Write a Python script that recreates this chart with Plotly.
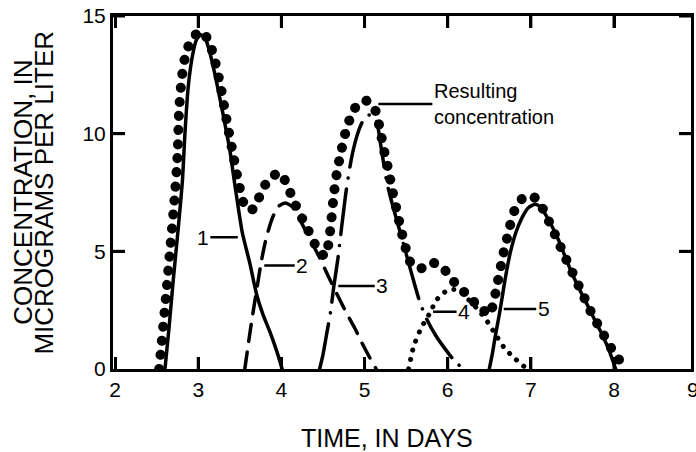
'''
    Concentration of five overlapping pulses and the resulting
    concentration curve (dotted), redrawn with plotly.
'''
import plotly.graph_objects as go

# ---- data (days, micrograms per liter) ----
days_1 = [2.60, 2.65, 2.70, 2.76, 2.81, 2.84, 2.88, 2.93, 2.98, 3.03, 3.09, 3.15,
          3.22, 3.30, 3.38, 3.45, 3.53, 3.62, 3.70, 3.78, 3.86, 3.94, 4.01]
conc_1 = [0, 1.8, 3.8, 6.0, 8.0, 10.0, 12.0, 13.3, 14.0, 14.2, 14.0, 13.3,
          12.2, 10.8, 9.3, 7.6, 5.8, 4.5, 3.2, 2.3, 1.6, 0.8, 0]

days_2 = [3.56, 3.60, 3.65, 3.70, 3.76, 3.82, 3.89, 3.96, 4.05, 4.13, 4.20, 4.28,
          4.36, 4.45, 4.57, 4.68, 4.78, 4.88, 4.97, 5.06, 5.14]
conc_2 = [0, 1.0, 2.2, 3.3, 4.6, 5.6, 6.4, 6.9, 7.05, 6.9, 6.5, 5.95,
          5.4, 4.8, 3.9, 3.1, 2.4, 1.75, 1.1, 0.5, 0]

days_3 = [4.46, 4.50, 4.54, 4.59, 4.63, 4.68, 4.72, 4.78, 4.84, 4.90, 4.96, 5.02,
          5.08, 5.14, 5.20, 5.27, 5.35, 5.43, 5.50, 5.57, 5.66, 5.75, 5.86, 5.98,
          6.08, 6.19]
conc_3 = [0, 0.6, 1.4, 2.4, 3.5, 4.7, 5.9, 7.6, 8.9, 9.8, 10.4, 10.75,
          10.8, 10.6, 9.4, 7.9, 6.8, 5.8, 4.9, 4.0, 2.9, 2.1, 1.4, 0.8,
          0.35, 0]

days_4 = [5.53, 5.59, 5.67, 5.73, 5.79, 5.85, 5.92, 6.01, 6.08, 6.15, 6.25, 6.37,
          6.48, 6.57, 6.67, 6.79, 6.89, 6.95]
conc_4 = [0, 0.95, 1.66, 2.05, 2.4, 2.85, 3.15, 3.36, 3.38, 3.3, 2.95, 2.5,
          2.0, 1.5, 0.95, 0.5, 0.2, 0]

days_5 = [6.50, 6.54, 6.57, 6.63, 6.69, 6.75, 6.82, 6.89, 6.97, 7.05, 7.11, 7.17,
          7.25, 7.33, 7.41, 7.49, 7.59, 7.69, 7.78, 7.86, 7.94, 8.02]
conc_5 = [0, 0.7, 1.35, 2.5, 3.8, 4.9, 5.8, 6.4, 6.85, 7.0, 6.9, 6.6,
          6.1, 5.5, 4.8, 4.1, 3.35, 2.65, 2.0, 1.45, 0.8, 0]

result_days = [2.53, 2.60, 2.66, 2.71, 2.75, 2.77, 2.80, 2.85, 2.92, 3.02, 3.12, 3.20,
               3.27, 3.34, 3.41, 3.48, 3.55, 3.60, 3.66, 3.72, 3.80, 3.90, 3.98, 4.06,
               4.14, 4.25, 4.35, 4.45, 4.53, 4.57, 4.60, 4.63, 4.67, 4.71, 4.76, 4.81,
               4.87, 4.93, 5.00, 5.07, 5.14, 5.19, 5.24, 5.29, 5.34, 5.39, 5.44, 5.49,
               5.54, 5.62, 5.72, 5.82, 5.90, 5.99, 6.10, 6.22, 6.33, 6.43, 6.50, 6.55,
               6.59, 6.63, 6.67, 6.71, 6.75, 6.81, 6.90, 7.00, 7.08, 7.16, 7.24, 7.33,
               7.42, 7.50, 7.58, 7.66, 7.74, 7.82, 7.90, 7.98, 8.06, 8.15]
result_conc = [0, 2.6, 5.0, 7.0, 9.0, 11.0, 12.3, 13.4, 14.0, 14.35, 14.0, 13.1,
               12.0, 10.6, 9.3, 8.0, 7.0, 6.75, 6.8, 7.2, 7.8, 8.2, 8.35, 7.9,
               7.2, 6.4, 5.7, 5.0, 4.8, 5.4, 6.3, 7.4, 8.4, 9.1, 9.9, 10.5,
               11.0, 11.3, 11.4, 11.35, 10.9, 10.1, 9.2, 8.4, 7.5, 6.7, 5.9, 5.2,
               4.6, 4.3, 4.3, 4.5, 4.45, 4.1, 3.6, 3.2, 2.8, 2.5, 2.3, 2.8,
               3.5, 4.2, 4.9, 5.5, 6.1, 6.8, 7.25, 7.35, 7.2, 6.7, 6.1, 5.4,
               4.7, 4.1, 3.5, 2.9, 2.3, 1.8, 1.3, 0.8, 0.4, 0.1]

x_ticks = [2, 3, 4, 5, 6, 7, 8]
y_ticks = [0, 5, 10, 15]

# curve labels and the point their leader line touches
label_text = ['1', '2', '3', '4', '5']
label_days = [3.50, 3.77, 4.66, 5.80, 6.65]
label_conc = [5.6, 4.4, 3.53, 2.43, 2.55]
label_shift = [-37, 40, 46, 33, 42]

X_RANGE = [1.975, 8.926]
Y_RANGE = [0, 15]
FONT = 'Liberation Sans, Arial, Helvetica, sans-serif'
INK = '#000000'
TICK_LEN = 12


def curve(x, y, width, dash):
    return go.Scatter(x=x, y=y, mode='lines', showlegend=False, hoverinfo='skip',
                      line=dict(color=INK, width=width, dash=dash,
                                shape='spline', smoothing=0.6))


fig = go.Figure()
fig.add_trace(curve(result_days, result_conc, 10, '0.1px,14px'))
fig.add_trace(curve(days_1, conc_1, 3.5, 'solid'))
fig.add_trace(curve(days_2, conc_2, 3.5, '17px,11px'))
fig.add_trace(curve(days_3, conc_3, 3.5, '46px,11px,0.1px,11px'))
fig.add_trace(curve(days_4, conc_4, 5, '0.1px,9.5px'))
fig.add_trace(curve(days_5, conc_5, 3.5, 'solid'))

for txt, xd, yd, dx in zip(label_text, label_days, label_conc, label_shift):
    fig.add_annotation(x=xd, y=yd, text=txt, showarrow=True, arrowhead=0,
                       arrowwidth=2.5, arrowcolor=INK, ax=dx, ay=0, standoff=2,
                       font=dict(size=21, color=INK, family=FONT))

fig.add_annotation(x=5.07, y=11.35, text='Resulting<br>concentration',
                   showarrow=True, arrowhead=0, arrowwidth=2.5, arrowcolor=INK,
                   ax=62, ay=0, standoff=8, xanchor='left', yanchor='middle',
                   yshift=-2, align='left',
                   font=dict(size=20, color=INK, family=FONT))

# axis titles, placed by hand so the two y lines sit close together
fig.add_annotation(xref='paper', yref='paper', x=-0.157, y=0.5, textangle=-90,
                   xanchor='center', yanchor='middle',
                   text='CONCENTRATION, IN', showarrow=False,
                   font=dict(size=26, color=INK, family=FONT))
fig.add_annotation(xref='paper', yref='paper', x=-0.121, y=0.5, textangle=-90,
                   xanchor='center', yanchor='middle',
                   text='MICROGRAMS PER LITER', showarrow=False,
                   font=dict(size=26, color=INK, family=FONT))
fig.add_annotation(xref='paper', yref='paper', x=0.474, y=0, yshift=-69,
                   xanchor='center', yanchor='middle', text='TIME, IN DAYS',
                   showarrow=False, font=dict(size=25, color=INK, family=FONT))
# the "9" label sits on the cropped right edge
fig.add_annotation(xref='paper', yref='paper',
                   x=(9 - X_RANGE[0]) / (X_RANGE[1] - X_RANGE[0]), y=0,
                   xshift=-4, yshift=-20, xanchor='center', yanchor='middle',
                   text='9', showarrow=False,
                   font=dict(size=21, color=INK, family=FONT))

# inward ticks on all four sides, drawn as shapes on top of the traces
for xv in x_ticks[1:]:
    for anchor, sign in ((0, 1), (1, -1)):
        fig.add_shape(type='line', xref='x', yref='paper', ysizemode='pixel',
                      yanchor=anchor, x0=xv, x1=xv, y0=0, y1=sign * TICK_LEN,
                      line=dict(color=INK, width=3))
for yv in y_ticks[1:]:
    for anchor, sign in ((0, 1), (1, -1)):
        fig.add_shape(type='line', xref='paper', yref='y', xsizemode='pixel',
                      xanchor=anchor, y0=yv, y1=yv, x0=0, x1=sign * TICK_LEN,
                      line=dict(color=INK, width=3))

axis_style = dict(tickmode='array', showgrid=False, zeroline=False, showline=True,
                  linewidth=3, linecolor=INK, mirror='ticks', ticks='inside',
                  ticklen=TICK_LEN, tickwidth=3, tickcolor=INK,
                  tickfont=dict(size=21, color=INK, family=FONT))

fig.update_layout(
    width=696, height=452,
    margin=dict(l=113, r=2, t=16, b=83),
    paper_bgcolor='white', plot_bgcolor='white',
    xaxis=dict(range=X_RANGE, tickvals=x_ticks, **axis_style),
    # a small suffix gap pushes the y labels away from the axis line
    yaxis=dict(range=Y_RANGE, tickvals=y_ticks, ticksuffix='\u00a0\u200a',
               **axis_style),
)

# round line caps turn the zero-length dashes into round dots
POST_JS = """
var s = document.createElement('style');
s.textContent = 'body{margin:0;overflow:hidden} .scatterlayer path.js-line{stroke-linecap:round}';
document.head.appendChild(s);
"""

fig.write_html("out.html", config={'displayModeBar': False}, post_script=POST_JS)
